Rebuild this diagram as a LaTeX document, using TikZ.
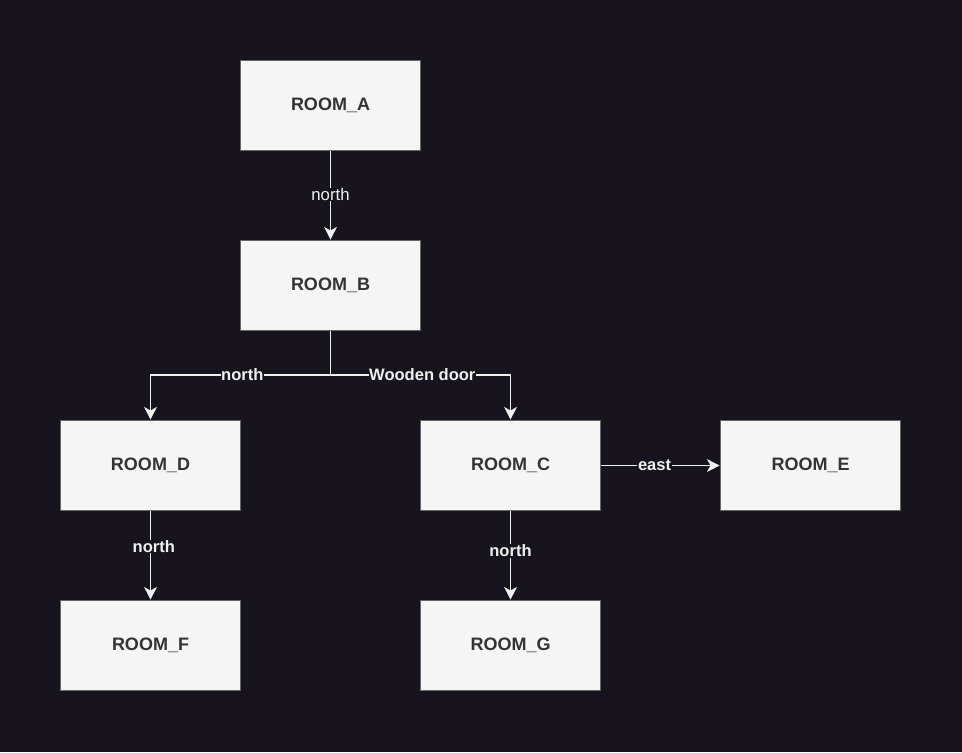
\documentclass[tikz,border=0pt]{standalone}
\usepackage{fontspec}
\setmainfont{Liberation Sans}
\usetikzlibrary{arrows.meta}
\definecolor{bgdark}{HTML}{18141D}
\definecolor{boxfill}{HTML}{F5F5F5}
\definecolor{boxline}{HTML}{666666}
\definecolor{boxtext}{HTML}{333333}
\definecolor{wire}{HTML}{F0F0F0}
\tikzset{
  room/.style={draw=boxline, fill=boxfill, line width=1.2pt, minimum width=135pt, minimum height=67.5pt,
    inner sep=0pt, text=boxtext, font=\fontsize{13.5}{15}\selectfont\bfseries},
  link/.style={draw=wire, line width=0.9pt, -{Stealth[length=9.5pt, width=9.5pt, inset=2.6pt]}},
  lbl/.style={fill=bgdark, text=wire, inner sep=0.5pt, font=\fontsize{12.6}{14}\selectfont},
  blbl/.style={lbl, font=\fontsize{12.4}{14}\selectfont\bfseries},
}
\begin{document}
\begin{tikzpicture}[x=0.75pt, y=-0.75pt]
  \fill[bgdark] (0,0) rectangle (962,752);
  \useasboundingbox (0,0) rectangle (962,752);

  \node[room] (A) at (330.5,105.5) {ROOM\_A};
  \node[room] (B) at (330.5,285.5) {ROOM\_B};
  \node[room] (D) at (150.5,465.5) {ROOM\_D};
  \node[room] (C) at (510.5,465.5) {ROOM\_C};
  \node[room] (E) at (810.5,465.5) {ROOM\_E};
  \node[room] (F) at (150.5,645.5) {ROOM\_F};
  \node[room] (G) at (510.5,645.5) {ROOM\_G};

  \coordinate (split) at (330.5,375);

  \draw[link] (A) -- node[lbl, pos=0.49] {north} (B);
  \draw[draw=wire, line width=0.9pt] (B.south) -- (split);
  \draw[link] (split) -| node[blbl, pos=0.245] {north} (D.north);
  \draw[link] (split) -| node[blbl, pos=0.255] {Wooden door} (C.north);
  \draw[link] (C) -- node[blbl, pos=0.45] {east} (E);
  \draw[link] (D) -- node[blbl, pos=0.4, xshift=2.5pt] {north} (F);
  \draw[link] (C) -- node[blbl, pos=0.45] {north} (G);
\end{tikzpicture}
\end{document}
